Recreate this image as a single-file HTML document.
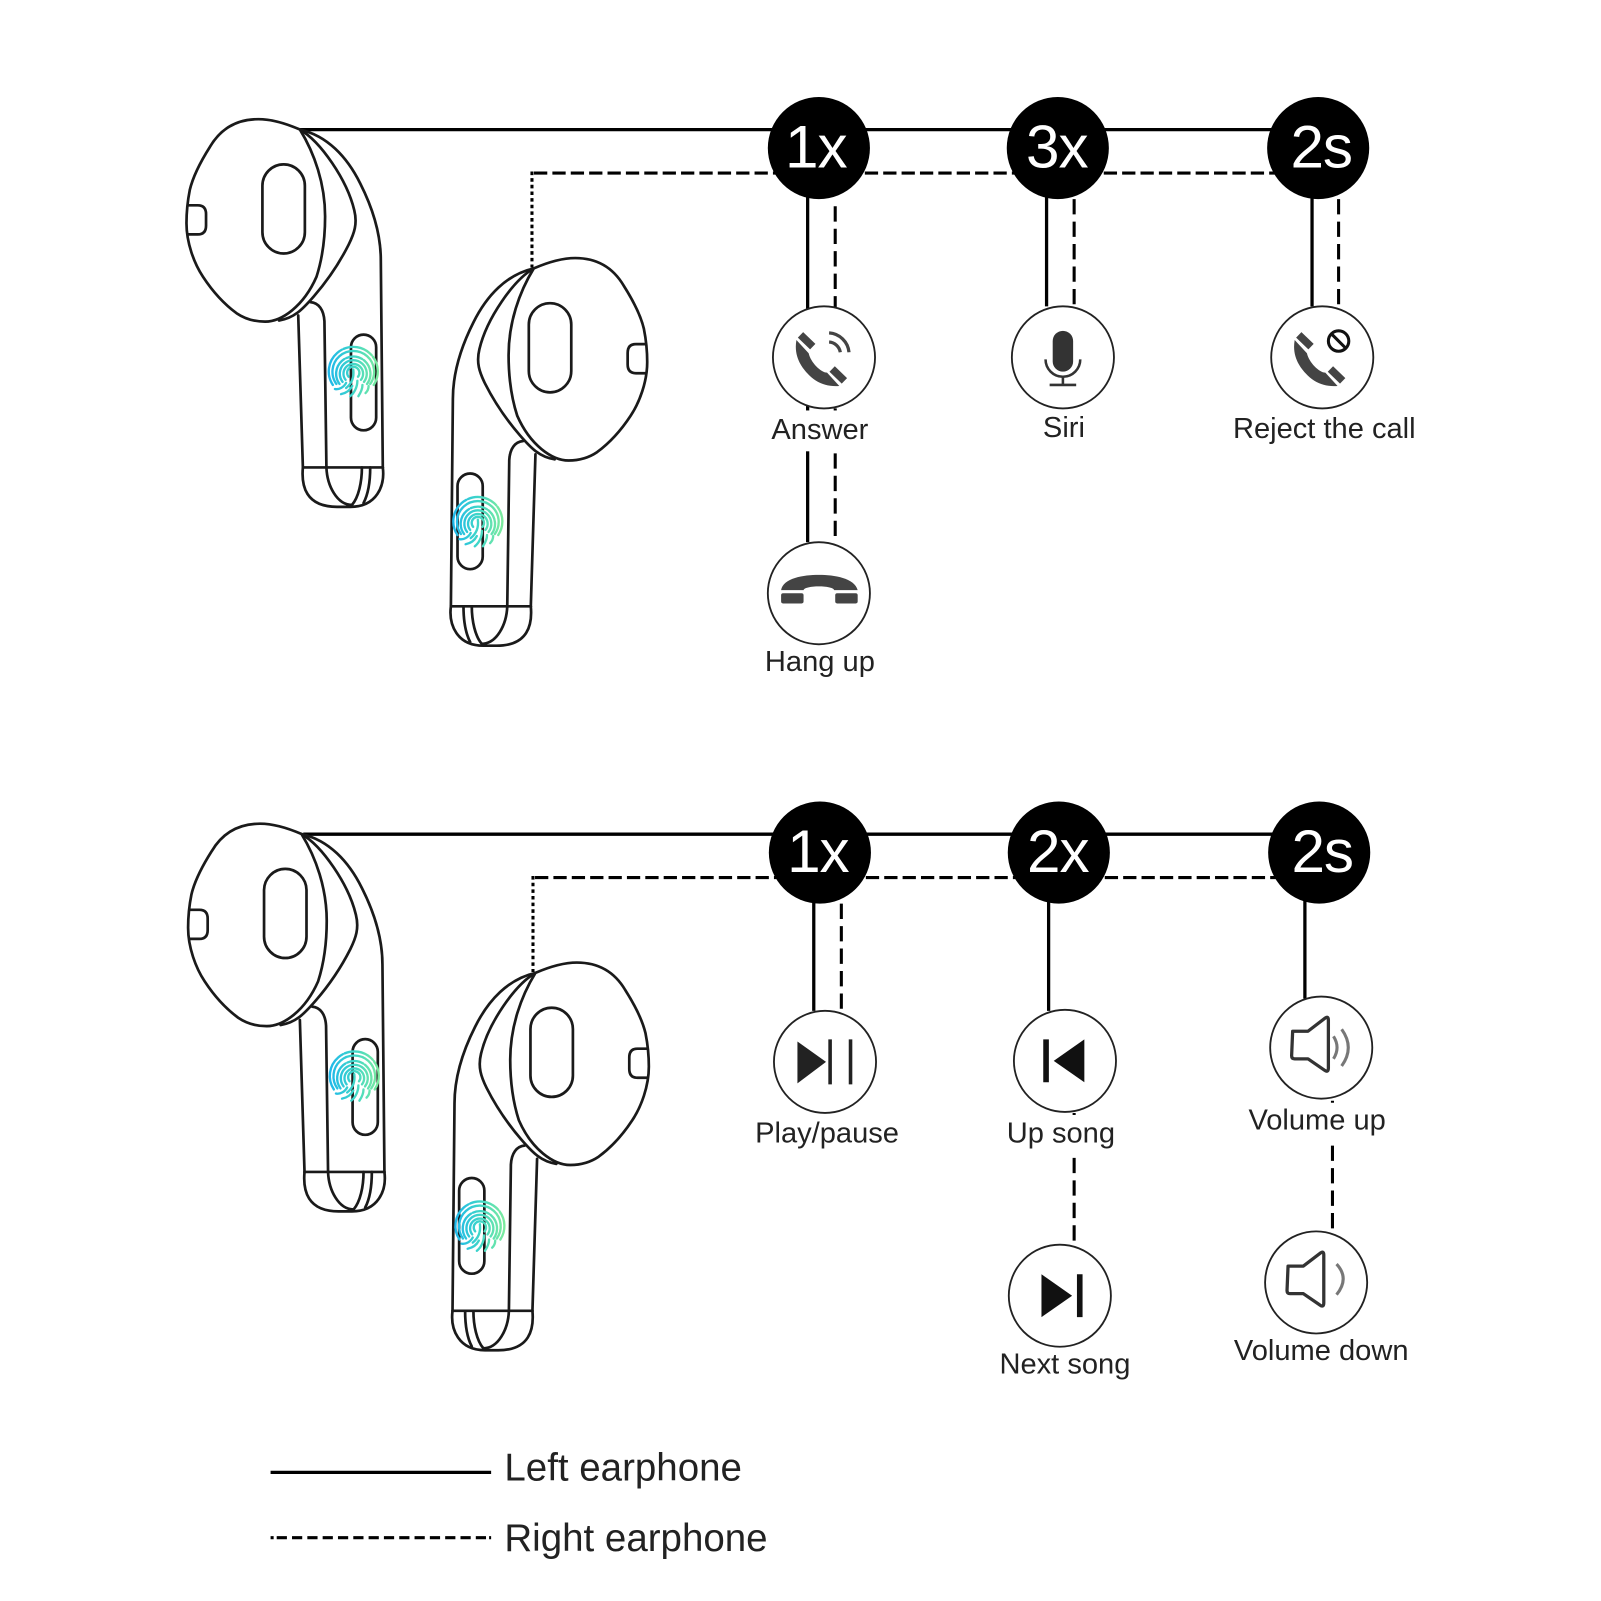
<!DOCTYPE html>
<html>
<head>
<meta charset="utf-8">
<style>
html,body{margin:0;padding:0;background:#fff;}
svg{display:block;}
text{font-family:"Liberation Sans",sans-serif;fill:#222;}
.b *{fill:none;stroke:#1a1a1a;stroke-width:2.7;vector-effect:non-scaling-stroke;stroke-linejoin:round;stroke-linecap:round;}
.fp *{fill:none;stroke:url(#fg);stroke-width:2.3;stroke-linecap:round;}
.ic{fill:#fff;stroke:#222;stroke-width:1.8;}
.s{stroke:#000;stroke-width:3.2;fill:none;}
.d{stroke:#000;stroke-width:3;fill:none;stroke-dasharray:13 5;}
.v{stroke:#000;stroke-width:3;fill:none;stroke-dasharray:15 7;}
</style>
</head>
<body>
<svg width="1601" height="1601" viewBox="0 0 1568 1568" xmlns="http://www.w3.org/2000/svg">
<defs>
<linearGradient id="fg" gradientUnits="userSpaceOnUse" x1="-24" y1="0" x2="24" y2="0">
<stop offset="0" stop-color="#1fb8ea"/><stop offset="0.5" stop-color="#3fd6c8"/><stop offset="1" stop-color="#7ceb9e"/>
</linearGradient>
<g id="bud" class="b">
<path d="M448,129 C530,145 590,200 630,270 C665,330 692,400 692,470 L698,1012"/>
<path d="M443,615 L457,1012"/>
<path d="M480,580 C505,582 520,600 522,630 L528,1012"/>
<path d="M457,1012 L698,1012"/>
<path d="M457,1012 C452,1060 465,1115 560,1115 L600,1115 C680,1115 705,1060 698,1012"/>
<path d="M528,1012 C530,1060 560,1110 605,1110"/>
<path d="M635,1012 C635,1050 625,1090 605,1110"/>
<path d="M660,1012 C660,1050 655,1080 640,1105"/>
<path d="M448,129 C510,160 590,260 612,340 C622,375 612,400 595,430 C560,490 520,535 490,565 C455,600 430,622 385,628"/>
<path style="fill:#fff" d="M448,129 C400,111 360,102 323,102 C258,102 209,127 177,174 C147,215 126,250 116,287 C110,313 106,343 106,374 C106,425 129,479 156,514 C184,551 221,586 257,609 C286,626 313,631 343,631 C393,631 459,591 498,514 C514,471 524,418 524,356 C524,271 492,191 448,129 Z"/>
<rect x="335" y="220" width="128" height="233" rx="64" ry="56"/>
<path d="M110,327 L140,327 Q165,327 165,350 L165,380 Q165,403 140,403 L110,403"/>
<rect x="602" y="665" width="76" height="250" rx="38" ry="33"/>
</g>
<g id="pair">
<g transform="matrix(0.3248,0,0,0.3748,148.2,78.5)"><use href="#bud"/></g>
<g transform="matrix(-0.3248,0,0,0.3748,668.3,214.5)"><use href="#bud"/></g>
</g>
<g id="fpr" class="fp">
<path d="M-20,13 A24 24 0 1 1 20,13" stroke-dasharray="40 2 30 2"/>
<path d="M-16.6,12 A20.4 20.4 0 1 1 16.6,12"/>
<path d="M-13.5,12 A16.8 16.8 0 1 1 13.5,12" stroke-dasharray="28 2 16 2"/>
<path d="M-10.5,10 A13.2 13.2 0 1 1 10.5,10"/>
<path d="M-7.5,8 A9.6 9.6 0 1 1 7.5,8"/>
<path d="M-4.6,5 A6 6 0 1 1 4.6,5"/>
<path d="M0,-2 C1,6 -2,12 -7,16"/>
<path d="M-18,17 C-14,18 -9,15 -7,11"/>
<path d="M-12,22 C-7,21 -3,18 -1,14"/>
<path d="M-3,24 C1,21 4,15 4,9"/>
<path d="M5,24 C7,21 9,17 9,13"/>
<path d="M12,21 C14,19 15,17 15,14"/>
</g>
<g id="handset">
<path fill="#444" d="M-27,-17 C-30,0 -21,11 -14,18 C-7,25 3,29 15,28 L3,15 C-3,15 -13,5 -15,-4 Z"/>
<path d="M-23,-22 L-11,-10.5 M8,11.4 L20,23" stroke="#444" stroke-width="7.5" fill="none"/>
</g>
</defs>

<!-- connectors top -->
<path class="s" d="M292,127 H1290"/>
<path class="d" d="M523,169.5 H1290"/>
<path d="M521,168 V262" stroke="#000" stroke-width="3" fill="none" stroke-dasharray="3.5 3"/>
<path class="s" d="M791,190 V531"/>
<path class="v" d="M818,202 V531"/>
<path class="s" d="M1025,190 V300"/>
<path class="v" d="M1052,195 V300"/>
<path class="s" d="M1285,190 V300"/>
<path class="v" d="M1311,195 V300"/>

<!-- connectors bottom -->
<path class="s" d="M297,817 H1290"/>
<path class="d" d="M524,859.5 H1290"/>
<path d="M522,858 V952" stroke="#000" stroke-width="3" fill="none" stroke-dasharray="3.5 3"/>
<path class="s" d="M797,880 V990"/>
<path class="v" d="M824,885 V990"/>
<path class="s" d="M1027,880 V990"/>
<path class="v" d="M1052,1090 V1222"/>
<path class="s" d="M1278,880 V978"/>
<path class="v" d="M1305,1078 V1208"/>

<use href="#pair"/>
<use href="#pair" transform="translate(1.6,690)"/>

<use href="#fpr" transform="translate(346,364)"/>
<use href="#fpr" transform="translate(468,511)"/>
<use href="#fpr" transform="translate(347,1054)"/>
<use href="#fpr" transform="translate(470,1201)"/>

<!-- black badges -->
<circle cx="802" cy="145" r="50" fill="#000"/>
<circle cx="1036" cy="145" r="50" fill="#000"/>
<circle cx="1291" cy="145" r="50" fill="#000"/>
<circle cx="803" cy="835" r="50" fill="#000"/>
<circle cx="1037" cy="835" r="50" fill="#000"/>
<circle cx="1292" cy="835" r="50" fill="#000"/>
<g font-size="59" text-anchor="middle" letter-spacing="-1" style="fill:#fff">
<text x="799" y="164" style="fill:#fff">1x</text>
<text x="1035" y="164" style="fill:#fff">3x</text>
<text x="1294" y="164" style="fill:#fff">2s</text>
<text x="801" y="854" style="fill:#fff">1x</text>
<text x="1036" y="854" style="fill:#fff">2x</text>
<text x="1295" y="854" style="fill:#fff">2s</text>
</g>

<!-- label gaps -->
<rect x="750" y="402" width="105" height="40" fill="#fff"/>
<rect x="985" y="1092" width="110" height="40" fill="#fff"/>
<rect x="1218" y="1080" width="145" height="36" fill="#fff"/>

<!-- icon circles -->
<circle class="ic" cx="807" cy="350" r="50"/>
<circle class="ic" cx="1041" cy="350" r="50"/>
<circle class="ic" cx="1295" cy="350" r="50"/>
<circle class="ic" cx="802" cy="581" r="50"/>
<circle class="ic" cx="808" cy="1040" r="50"/>
<circle class="ic" cx="1043" cy="1039" r="50"/>
<circle class="ic" cx="1038" cy="1269" r="50"/>
<circle class="ic" cx="1294" cy="1026" r="50"/>
<circle class="ic" cx="1289" cy="1256" r="50"/>

<!-- answer icon -->
<g transform="translate(807,350)">
<use href="#handset"/>
<path d="M5,-24 A21 21 0 0 1 24.5,-5 M5,-15 A12 12 0 0 1 16,-5" fill="none" stroke="#444" stroke-width="3.2"/>
</g>
<!-- mic -->
<g transform="translate(1041,350)">
<rect x="-10" y="-26" width="20" height="40" rx="10" fill="#333"/>
<path d="M-17,2 A17 17 0 0 0 17,2 M0,19 V27 M-13,27 H13" fill="none" stroke="#333" stroke-width="2.5"/>
</g>
<!-- reject -->
<g transform="translate(1295,350)">
<use href="#handset"/>
<circle cx="16" cy="-16" r="10" fill="none" stroke="#111" stroke-width="3"/>
<path d="M9,-23 L23,-9" stroke="#111" stroke-width="3"/>
</g>
<!-- hang up -->
<g transform="translate(802,581)">
<path fill="#444" d="M-37,-3 C-35,-15 -15,-18 0,-18 C15,-18 35,-15 38,-3 L15,-3 C14,-8 -14,-8 -15,-3 Z"/>
<rect x="-37" y="0" width="22" height="10" rx="2" fill="#444"/>
<rect x="16" y="0" width="22" height="10" rx="2" fill="#444"/>
</g>
<!-- play/pause -->
<path d="M781,1020 L781,1061 L809,1040 Z" fill="#222"/>
<path d="M813,1018 V1062 M833,1018 V1062" stroke="#222" stroke-width="3.5"/>
<!-- prev -->
<path d="M1024.5,1018 V1060" stroke="#111" stroke-width="5.5"/>
<path d="M1062,1018 L1062,1060 L1032,1039 Z" fill="#111"/>
<!-- next -->
<path d="M1020,1248 L1020,1290 L1050,1269 Z" fill="#111"/>
<path d="M1057.5,1248 V1290" stroke="#111" stroke-width="5.5"/>
<!-- speaker up -->
<g id="sp" fill="none" stroke="#333" stroke-width="3.2" stroke-linejoin="round">
<path d="M1266,1010 H1281 L1298,997 Q1301,995 1301,999 V1046 Q1301,1051 1297,1048 L1281,1037 H1268 Q1265,1037 1265,1034 Z"/>
</g>
<path d="M1306,1015 Q1313,1026 1306,1037 M1314,1008 Q1327,1026 1314,1044" fill="none" stroke="#777" stroke-width="3"/>
<use href="#sp" transform="translate(-4.5,230)"/>
<path d="M1309,1238 Q1322,1252 1309,1268" fill="none" stroke="#777" stroke-width="3"/>

<!-- labels -->
<g font-size="28.5" text-anchor="middle">
<text x="803" y="430">Answer</text>
<text x="1042" y="428">Siri</text>
<text x="1297" y="429">Reject the call</text>
<text x="803" y="657">Hang up</text>
<text x="810" y="1119">Play/pause</text>
<text x="1039" y="1119">Up song</text>
<text x="1043" y="1345">Next song</text>
<text x="1290" y="1106">Volume up</text>
<text x="1294" y="1332">Volume down</text>
</g>

<!-- legend -->
<path class="s" d="M265,1442 H481"/>
<path d="M265,1506 H481" stroke="#000" stroke-width="3" fill="none" stroke-dasharray="3 3 10 5 10 5 10 5 10 5 10 5 10 5 10 5 10 5 10 5 10 5 10 5 10 5 10 5 10"/>
<g font-size="37.7">
<text x="494" y="1450">Left earphone</text>
<text x="494" y="1519">Right earphone</text>
</g>
</svg>
</body>
</html>
